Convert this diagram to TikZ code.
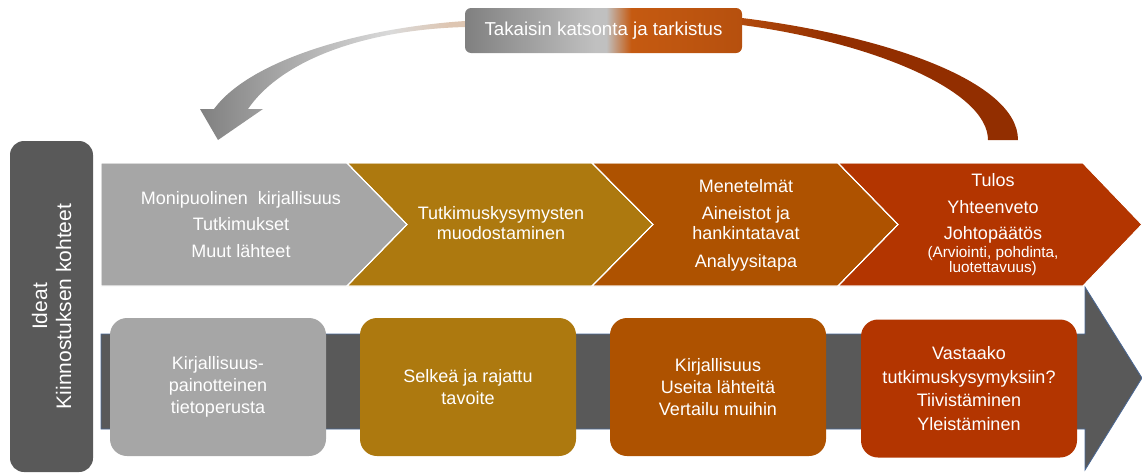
\documentclass[tikz,border=0pt]{standalone}
\usepackage{fontspec}
\setmainfont{Liberation Sans}
\newcommand{\myfs}[2]{\fontsize{#1}{#2}\selectfont}
\definecolor{dkgray}{RGB}{89,89,89}
\definecolor{ltgray}{RGB}{166,166,166}
\definecolor{cgold}{RGB}{173,121,15}
\definecolor{corange}{RGB}{174,82,0}
\definecolor{cred}{RGB}{179,53,0}
\definecolor{outl}{RGB}{74,104,150}
\definecolor{hga}{RGB}{128,128,128}
\definecolor{hgb}{RGB}{192,192,192}
\definecolor{hgc}{RGB}{197,90,17}
\definecolor{hgd}{RGB}{182,80,14}
\definecolor{laa}{RGB}{128,128,128}
\definecolor{lab}{RGB}{176,176,176}
\definecolor{lac}{RGB}{218,218,218}
\definecolor{lad}{RGB}{222,198,178}
\definecolor{raa}{RGB}{178,74,12}
\definecolor{rab}{RGB}{146,46,0}
\pgfdeclarehorizontalshading{hdrshade}{100bp}{color(0bp)=(hga); color(25bp)=(hga); color(48.5bp)=(hgb); color(50.5bp)=(hgb); color(55bp)=(hgc); color(75bp)=(hgd); color(100bp)=(hgd)}
\pgfdeclarehorizontalshading{larcshade}{100bp}{color(0bp)=(laa); color(25bp)=(laa); color(44bp)=(lab); color(61bp)=(lac); color(72bp)=(lad); color(100bp)=(lad)}
\pgfdeclarehorizontalshading{rarcshade}{100bp}{color(0bp)=(raa); color(25bp)=(raa); color(42bp)=(rab); color(100bp)=(rab)}
\tikzset{
  tx/.style={text=white, align=center, inner sep=0pt},
  chev/.style={draw=white, line width=0.9pt, line join=miter},
  rbox/.style={tx, rounded corners=17pt, minimum width=216pt, minimum height=138pt, font=\myfs{18}{22}},
}
\begin{document}
\begin{tikzpicture}[x=1pt,y=-1pt]
\useasboundingbox (0,0) rectangle (1142,472);
% curved arrows
\shade[shading=larcshade] (465,21) .. controls (360,28) and (250,60) .. (214,109) -- (200,109) -- (218,140) -- (263,109) -- (248,109) .. controls (280,62) and (360,30) .. (465,27) -- cycle;
\shade[shading=rarcshade] (742,18) .. controls (880,35) and (1018,80) .. (1018,140) -- (988,140) .. controls (988,90) and (870,42) .. (742,25) -- cycle;
% header
\node[tx, shading=hdrshade, rounded corners=6pt, minimum width=277pt, minimum height=45pt, font=\myfs{18.7}{22}] (hdr) at (603.5,30.5) {Takaisin katsonta ja tarkistus};
% left vertical box
\node[tx, rotate=90, fill=dkgray, rounded corners=14pt, minimum width=331pt, minimum height=83pt, font=\myfs{21}{24}] (ideat) at (51.5,306.5) {Ideat\\Kiinnostuksen kohteet};
% top chevrons
\fill[chev, fill=ltgray] (101,163) -- (347,163) -- (407,224.5) -- (347,286) -- (101,286) -- cycle;
\fill[chev, fill=cgold] (347,163) -- (592,163) -- (653,224.5) -- (592,286) -- (347,286) -- (407,224.5) -- cycle;
\fill[chev, fill=corange] (592,163) -- (838,163) -- (898,224.5) -- (838,286) -- (592,286) -- (653,224.5) -- cycle;
\fill[chev, fill=cred] (838,163) -- (1083,163) -- (1142,224.5) -- (1083,286) -- (838,286) -- (898,224.5) -- cycle;
\draw[chev] (101,163) -- (347,163) -- (407,224.5) -- (347,286) -- (101,286) -- cycle;
\draw[chev] (347,163) -- (592,163) -- (653,224.5) -- (592,286) -- (347,286) -- (407,224.5) -- cycle;
\draw[chev] (592,163) -- (838,163) -- (898,224.5) -- (838,286) -- (592,286) -- (653,224.5) -- cycle;
\draw[chev] (838,163) -- (1083,163) -- (1142,224.5) -- (1083,286) -- (838,286) -- (898,224.5) -- cycle;
\node[tx, font=\myfs{18}{22}] (t1) at (241,224.5) {Monipuolinen\ \ kirjallisuus\\[4.5pt]Tutkimukset\\[4.5pt]Muut lähteet};
\node[tx, font=\myfs{18}{20}] (t2) at (501,223) {Tutkimuskysymysten\\muodostaminen};
\node[tx, font=\myfs{18}{20}] (t3) at (746,225) {Menetelmät\\[7.5pt]Aineistot ja\\hankintatavat\\[7.5pt]Analyysitapa};
\node[tx, font=\myfs{18}{22}] (t4) at (993,208.5) {Tulos\\[4.5pt]Yhteenveto\\[4.5pt]Johtopäätös};
\node[tx, font=\myfs{15.3}{15}] (t4b) at (993,261) {(Arviointi, pohdinta,\\luotettavuus)};
% bottom arrow
\filldraw[fill=dkgray, draw=outl, line width=0.8pt, line join=miter] (101,334) -- (1085,334) -- (1085,287) -- (1142,378) -- (1085,470) -- (1085,429) -- (101,429) -- cycle;
% bottom boxes
\node[rbox, fill=ltgray] (b1) at (218,387) {Kirjallisuus-\\painotteinen\\tietoperusta};
\node[rbox, fill=cgold] (b2) at (468,387) {Selkeä ja rajattu\\tavoite};
\node[rbox, fill=corange] (b3) at (718,387) {Kirjallisuus\\Useita lähteitä\\Vertailu muihin};
\node[rbox, fill=cred, font=\myfs{18}{23.5}] (b4) at (969,388.5) {Vastaako\\tutkimuskysymyksiin?\\Tiivistäminen\\Yleistäminen};
\end{tikzpicture}
\end{document}
